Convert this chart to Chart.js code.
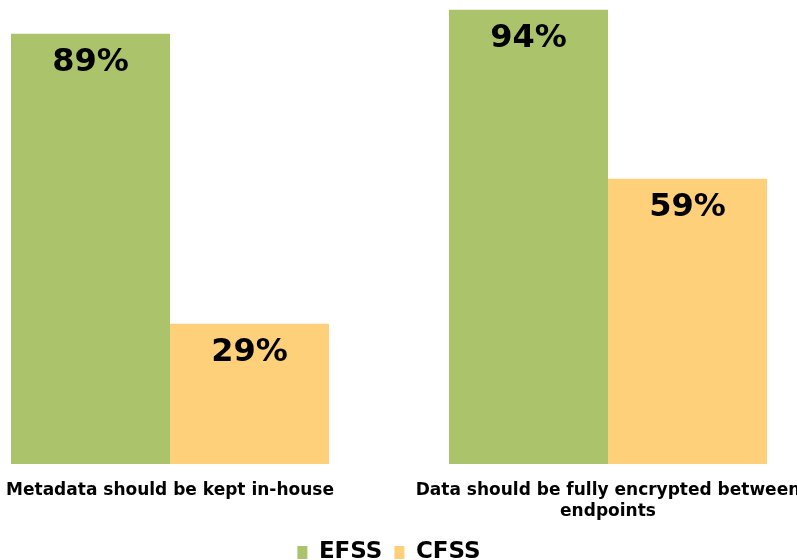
<!DOCTYPE html>
<html>
<head>
<meta charset="utf-8">
<script src="https://cdn.jsdelivr.net/npm/chart.js@4/dist/chart.umd.min.js"></script>
<style>
  html, body { margin: 0; padding: 0; background: #fff; }
  #wrap { position: relative; width: 797px; height: 560px; overflow: hidden; }
  /* the plot is wider (and a little taller) than the page so the groups and legend sit near the edges */
  #box { position: absolute; left: -49px; top: 0; width: 884px; height: 574px; }
</style>
</head>
<body>
<div id="wrap"><div id="box"><canvas id="chart"></canvas></div></div>
<script>
const categories = [
  "Metadata should be kept in-house",
  ["Data should be fully encrypted between", "endpoints"],
];
const seriesNames = ["EFSS", "CFSS"];
const efss = [89, 94];
const cfss = [29, 59];

const GREEN = "#abc46b", ORANGE = "#fed07a";
const FONT = "'DejaVu Sans', Verdana, sans-serif";

// percentage printed near the top of each bar
const barLabels = {
  id: "barLabels",
  afterDatasetsDraw(chart) {
    const ctx = chart.ctx;
    ctx.save();
    ctx.font = "bold 32px " + FONT;
    ctx.fillStyle = "#000";
    ctx.textAlign = "center";
    ctx.textBaseline = "middle";
    chart.data.datasets.forEach((ds, i) => {
      chart.getDatasetMeta(i).data.forEach((bar, j) => {
        ctx.fillText(ds.data[j] + "%", bar.x, bar.y + 29);
      });
    });
    ctx.restore();
  },
};

new Chart(document.getElementById("chart"), {
  type: "bar",
  data: {
    labels: categories,
    datasets: [
      { label: seriesNames[0], data: efss, backgroundColor: GREEN },
      { label: seriesNames[1], data: cfss, backgroundColor: ORANGE },
    ],
  },
  options: {
    responsive: true, maintainAspectRatio: false, animation: false,
    layout: { padding: { left: 0, top: 0, bottom: 0, right: 8 } },
    categoryPercentage: 0.726, barPercentage: 1,
    plugins: {
      legend: {
        position: "bottom",
        labels: { color: "#000", boxWidth: 10, boxHeight: 13, padding: 12,
                  font: { family: FONT, size: 23, weight: "bold" } },
      },
      tooltip: { enabled: false },
    },
    scales: {
      y: { display: false, min: 0, max: 96 },
      x: {
        grid: { display: false }, border: { display: false },
        afterFit: s => { s.height = 65; },
        ticks: { color: "#000", padding: 8, autoSkip: false, maxRotation: 0,
                 font: { family: FONT, size: 17, weight: "bold", lineHeight: 1.25 } },
      },
    },
  },
  plugins: [barLabels],
});
</script>
</body>
</html>
